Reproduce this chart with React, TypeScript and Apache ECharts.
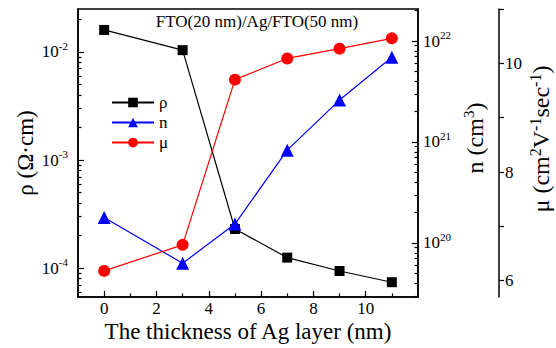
import React, { useEffect, useRef } from 'react';
import * as echarts from 'echarts';

// ---- data ----
const thickness = [0, 3, 5, 7, 9, 11];
const rhoValues = [1.6e-2, 1.04e-2, 2.3e-4, 1.25e-4, 9.4e-5, 7.4e-5];
const nValues = [1.79e20, 6.3e19, 1.54e20, 8.3e20, 2.6e21, 6.9e21];
const muValues = [6.18, 6.66, 9.7, 10.09, 10.27, 10.46];
const seriesNames = ['ρ', 'n', 'μ'];

// ---- ticks ----
const xTickLabels = [0, 2, 4, 6, 8, 10];
const xMinorTicks = [1, 3, 5, 7, 9, 11];
const rhoTickLabels = [1e-4, 1e-3, 1e-2];
const rhoDecades = [1e-5, 1e-4, 1e-3, 1e-2];
const nTickLabels = [1e20, 1e21, 1e22];
const nDecades = [1e19, 1e20, 1e21, 1e22];
const muTickLabels = [6, 8, 10];
const muTicks = [6, 7, 8, 9, 10, 11];
const logMultipliers = [2, 3, 4, 5, 6, 7, 8, 9];

const xRange = [-1, 12];
const rhoRange = [5.4e-5, 2.5e-2];
const nRange = [Math.pow(10, 19.465), Math.pow(10, 22.317)];
const muRange = [5.7, 11];

const FONT = 'Liberation Serif';
const black = '#000';

function logMinor(range: number[], decades: number[]) {
  const out: number[] = [];
  decades.forEach((d) =>
    logMultipliers.forEach((m) => {
      const v = m * d;
      if (v >= range[0] && v <= range[1]) out.push(v);
    })
  );
  return out;
}

const powRich = {
  b: { fontSize: 17, fontFamily: FONT, color: black, verticalAlign: 'bottom', lineHeight: 17 },
  s: { fontSize: 11, fontFamily: FONT, color: black, verticalAlign: 'bottom', lineHeight: 11, padding: [0, 0, 9, 0] },
};
const powFormatter = (v: number) => `{b|10}{s|${Math.round(Math.log10(v))}}`;

const nameRichN = {
  a: { fontSize: 24, fontFamily: FONT, fill: black, verticalAlign: 'bottom', lineHeight: 24 },
  s: { fontSize: 15, fontFamily: FONT, fill: black, verticalAlign: 'bottom', lineHeight: 15, padding: [0, 0, 11, 0] },
};
const nameRichMu = {
  a: { fontSize: 24, fontFamily: FONT, fill: black, verticalAlign: 'bottom', lineHeight: 24 },
  s: { fontSize: 16, fontFamily: FONT, fill: black, verticalAlign: 'bottom', lineHeight: 16, padding: [0, 0, 10, 0] },
};

const tickStyle = { color: black, width: 1.2 };
const mainLine = { show: true, onZero: false, lineStyle: { color: black, width: 1.5 } };
const noLine = { show: false, onZero: false };
const labelBase = { color: black, fontSize: 17, fontFamily: FONT };

function txt(x: number, y: number, text: string, extra: any = {}, rotation = 0): any {
  return {
    type: 'text',
    x,
    y,
    rotation,
    silent: true,
    style: {
      text,
      fontSize: 17,
      fontFamily: FONT,
      fill: black,
      align: 'center',
      verticalAlign: 'middle',
      ...extra,
    },
  };
}

function buildOption(): any {
  return {
    animation: false,
    backgroundColor: '#fff',
    textStyle: { fontFamily: FONT },
    grid: {
      left: 78,
      right: 138,
      top: 9,
      bottom: 51,
      show: true,
      borderColor: black,
      borderWidth: 1.5,
      backgroundColor: 'transparent',
      outerBoundsMode: 'none',
    },
    legend: {
      orient: 'vertical',
      left: 106,
      top: 89,
      itemWidth: 42,
      itemHeight: 12,
      itemGap: 3,
      selectedMode: false,
      textStyle: { fontSize: 17, fontFamily: FONT, color: black },
      data: seriesNames,
    },
    xAxis: [
      {
        type: 'value',
        min: xRange[0],
        max: xRange[1],
        position: 'bottom',
        axisLine: mainLine,
        axisTick: { show: true, inside: true, length: 6, customValues: xTickLabels, lineStyle: tickStyle },
        axisLabel: { ...labelBase, customValues: xTickLabels, lineHeight: 14, margin: 4 },
        splitLine: { show: false },
        name: 'The thickness of Ag layer (nm)',
        nameLocation: 'middle',
        nameGap: 24,
        nameMoveOverlap: false,
        nameTextStyle: { fontSize: 23, fontFamily: FONT, color: black, lineHeight: 20 },
      },
      {
        type: 'value',
        min: xRange[0],
        max: xRange[1],
        position: 'bottom',
        axisLine: noLine,
        axisTick: { show: true, inside: true, length: 3.5, customValues: xMinorTicks, lineStyle: tickStyle },
        axisLabel: { show: false },
        splitLine: { show: false },
      },
    ],
    yAxis: [
      {
        type: 'log',
        logBase: 10,
        min: rhoRange[0],
        max: rhoRange[1],
        position: 'left',
        axisLine: mainLine,
        axisTick: { show: true, inside: true, length: 6, customValues: rhoTickLabels, lineStyle: tickStyle },
        axisLabel: { ...labelBase, customValues: rhoTickLabels, formatter: powFormatter, rich: powRich, margin: 10 },
        splitLine: { show: false },
      },
      {
        type: 'log',
        logBase: 10,
        min: rhoRange[0],
        max: rhoRange[1],
        position: 'left',
        axisLine: noLine,
        axisTick: { show: true, inside: true, length: 3.5, customValues: logMinor(rhoRange, rhoDecades), lineStyle: tickStyle },
        axisLabel: { show: false },
        splitLine: { show: false },
      },
      {
        type: 'log',
        logBase: 10,
        min: nRange[0],
        max: nRange[1],
        position: 'right',
        offset: 0,
        axisLine: mainLine,
        axisTick: { show: true, inside: true, length: 6, customValues: nTickLabels, lineStyle: tickStyle },
        axisLabel: { ...labelBase, customValues: nTickLabels, formatter: powFormatter, rich: powRich, margin: 5 },
        splitLine: { show: false },
      },
      {
        type: 'log',
        logBase: 10,
        min: nRange[0],
        max: nRange[1],
        position: 'right',
        offset: 0,
        axisLine: noLine,
        axisTick: { show: true, inside: true, length: 3.5, customValues: logMinor(nRange, nDecades), lineStyle: tickStyle },
        axisLabel: { show: false },
        splitLine: { show: false },
      },
      {
        type: 'value',
        min: muRange[0],
        max: muRange[1],
        position: 'right',
        offset: 81,
        axisLine: mainLine,
        axisTick: { show: true, inside: false, length: 5, customValues: muTicks, lineStyle: tickStyle },
        axisLabel: { ...labelBase, customValues: muTickLabels, margin: 6 },
        splitLine: { show: false },
      },
    ],
    series: [
      {
        name: seriesNames[0],
        type: 'line',
        xAxisIndex: 0,
        yAxisIndex: 0,
        data: thickness.map((x, i) => [x, rhoValues[i]]),
        symbol: 'rect',
        symbolSize: 10,
        lineStyle: { color: black, width: 1.2 },
        itemStyle: { color: black, borderWidth: 0 },
        z: 2,
      },
      {
        name: seriesNames[1],
        type: 'line',
        xAxisIndex: 0,
        yAxisIndex: 2,
        data: thickness.map((x, i) => [x, nValues[i]]),
        symbol: 'triangle',
        symbolSize: 13,
        lineStyle: { color: '#0000ff', width: 1.2 },
        itemStyle: { color: '#0000ff', borderWidth: 0 },
        z: 3,
      },
      {
        name: seriesNames[2],
        type: 'line',
        xAxisIndex: 0,
        yAxisIndex: 4,
        data: thickness.map((x, i) => [x, muValues[i]]),
        symbol: 'circle',
        symbolSize: 12,
        lineStyle: { color: '#ff0000', width: 1.2 },
        itemStyle: { color: '#ff0000', borderWidth: 0 },
        z: 4,
      },
    ],
    graphic: [
      txt(257, 21, 'FTO(20 nm)/Ag/FTO(50 nm)'),
      txt(25, 153, 'ρ (Ω·cm)', { fontSize: 23 }, Math.PI / 2),
      txt(475, 138, '{a|n (cm}{s|3}{a|)}', { fontSize: 24, rich: nameRichN }, Math.PI / 2),
      txt(541, 139, '{a|μ (cm}{s|2}{a|V}{s|-1}{a|sec}{s|-1}{a|)}', { fontSize: 24, rich: nameRichMu }, Math.PI / 2),
    ],
  };
}

export default function App() {
  const ref = useRef<HTMLDivElement>(null);
  useEffect(() => {
    if (!ref.current) return;
    const chart = echarts.init(ref.current, null, { renderer: 'svg' });
    chart.setOption(buildOption());
    return () => chart.dispose();
  }, []);
  return (
    <div
      ref={ref}
      style={{ position: 'absolute', left: 0, top: 0, width: 556, height: 348, background: '#fff' }}
    />
  );
}
